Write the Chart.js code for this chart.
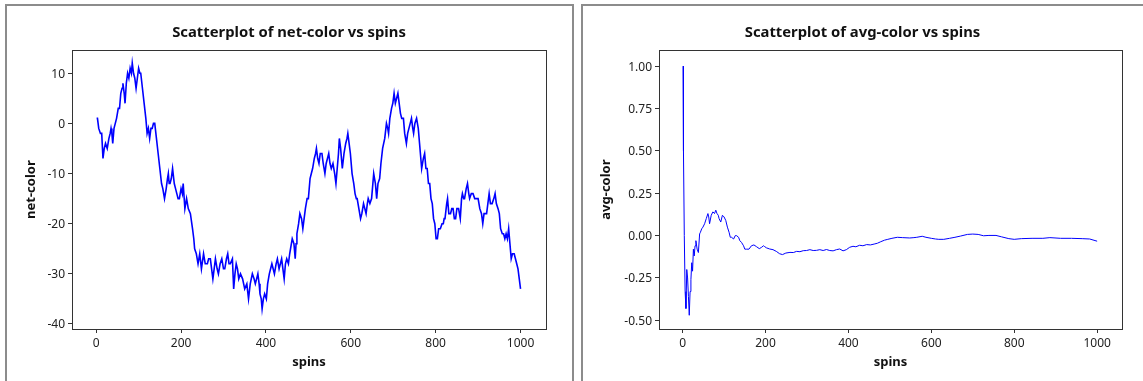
<!DOCTYPE html>
<html>
  <head>
    <meta charset="utf-8">
    <title>Scatterplots of net-color and avg-color vs spins</title>
    <script src="https://cdn.jsdelivr.net/npm/chart.js@4.4.1/dist/chart.umd.min.js"></script>
    <style>
      body {
        margin: 0;
        width: 1143px;
        height: 381px;
        overflow: hidden;
        background: #fff;
        position: relative;
      }
      .panel {
        position: absolute;
        box-sizing: border-box;
        border: 2px solid #8c8c8c;
        border-bottom: none;
      }
      #panelL { left: 5px; top: 4px; width: 569px; height: 400px; }
      #panelR { left: 581px; top: 4px; width: 600px; height: 400px; border-right: none; }
      canvas { position: absolute; top: 0; }
      #netChart { left: 0; }
      #avgChart { left: 582px; }
    </style>
  </head>
  <body>
    <div class="panel" id="panelL"></div>
    <div class="panel" id="panelR"></div>
    <canvas id="netChart" width="578" height="381"></canvas>
    <canvas id="avgChart" width="561" height="381"></canvas>

    <script>
      // values
      var netSpins = [1,3,6,10,13,16,19,22,26,30,33,35,37,39,42,45,48,52,55,58,61,63,66,68,71,74,77,80,83,85,88,91,94,97,100,103,105,109,113,117,120,123,126,129,132,135,138,142,146,150,154,157,161,165,168,170,172,174,177,180,184,187,190,193,196,200,203,205,209,213,217,222,227,230,232,236,240,244,248,253,257,262,265,269,272,275,278,281,285,288,292,296,300,303,307,310,313,316,321,324,327,330,333,336,340,345,350,355,359,363,368,372,375,378,381,384,386,389,391,394,397,401,404,408,411,414,417,420,424,427,431,434,437,440,443,446,449,453,456,458,462,466,469,471,473,477,480,484,487,490,493,497,500,504,507,510,514,517,519,522,525,528,532,535,539,542,545,548,551,554,558,562,565,568,571,573,576,580,584,588,591,593,596,599,603,607,610,613,615,619,623,626,630,633,636,639,641,645,649,652,654,656,658,661,664,668,671,675,680,684,687,689,692,696,699,702,705,708,711,714,717,720,724,727,731,734,737,740,743,746,748,751,755,757,759,762,765,767,771,774,777,780,783,786,789,792,795,798,801,804,807,811,815,818,820,822,826,828,831,835,838,841,844,847,850,854,858,861,863,866,868,872,875,878,880,884,888,892,896,900,904,908,911,914,917,920,923,926,929,933,937,940,943,947,950,953,957,960,963,966,969,972,975,978,981,985,988,991,994,997,1000];
      var netColor = [1,1,-1,-2,-2,-7,-5,-4,-5,-3,-2,-1,-2,-4,-1,0,1,3,3,6,7,8,6,4,8,10,9,11,10,12,10,9,7,9,11,10,10,7,4,1,-2,-1,-3,-1,-1,0,0,-3,-6,-9,-12,-13,-15,-13,-11,-10,-12,-12,-11,-9,-12,-13,-14,-15,-15,-13,-14,-12,-17,-15,-17,-18,-21,-23,-25,-26,-28,-26,-29,-26,-28,-28,-27,-27,-29,-31,-29,-27,-29,-30,-28,-27,-29,-29,-27,-26,-28,-28,-27,-33,-30,-28,-29,-31,-30,-31,-33,-32,-35,-32,-30,-31,-32,-31,-30,-32,-34,-35,-37,-35,-34,-35,-32,-30,-29,-28,-29,-30,-28,-27,-29,-28,-27,-29,-31,-28,-27,-28,-26,-25,-23,-24,-27,-24,-22,-20,-18,-19,-21,-19,-17,-15,-15,-11,-10,-9,-7,-6,-5,-7,-8,-6,-6,-8,-10,-8,-7,-6,-8,-9,-8,-10,-12,-9,-6,-3,-5,-9,-6,-4,-3,-2,-4,-6,-10,-12,-14,-15,-15,-17,-19,-18,-16,-17,-18,-16,-15,-16,-15,-12,-10,-11,-12,-15,-12,-11,-8,-5,-3,0,-1,-2,1,3,4,6,4,5,6,4,2,1,1,-2,-4,-2,-1,0,1,-1,-2,0,1,0,-1,-4,-7,-9,-7,-6,-9,-9,-12,-12,-15,-16,-19,-20,-23,-23,-21,-21,-20,-20,-19,-19,-16,-15,-18,-18,-17,-17,-19,-19,-17,-17,-19,-15,-14,-15,-15,-13,-12,-14,-15,-14,-14,-15,-15,-15,-17,-18,-20,-18,-18,-18,-16,-14,-16,-16,-15,-14,-16,-17,-18,-21,-22,-22,-23,-22,-23,-21,-24,-27,-26,-26,-27,-28,-29,-31,-33];

      var avgSpins = [1,2,4,6,8,10,12,14,16,18,20,22,24,26,28,30,32,35,38,41,43,46,49,53,57,61,63,65,69,73,77,80,83,86,88,92,96,100,104,108,112,115,118,123,127,130,135,138,142,147,150,154,160,166,172,178,185,190,195,198,202,210,218,226,234,241,249,259,267,275,283,291,299,307,315,323,331,339,347,355,363,371,379,387,395,403,411,418,427,435,444,453,462,470,478,487,495,505,518,531,548,558,565,578,587,600,610,618,630,644,657,670,687,700,713,726,739,756,769,787,800,817,843,869,886,912,938,964,982,1000];
      var avgColor = [1.00,0.50,0.00,-0.33,-0.43,-0.20,-0.25,-0.36,-0.47,-0.33,-0.26,-0.16,-0.21,-0.08,-0.12,-0.06,-0.03,-0.08,-0.10,0.01,0.02,0.04,0.05,0.07,0.10,0.13,0.11,0.07,0.12,0.14,0.13,0.15,0.13,0.12,0.10,0.08,0.12,0.11,0.09,0.05,0.02,-0.01,-0.01,-0.02,0.00,0.00,-0.01,-0.03,-0.04,-0.06,-0.08,-0.08,-0.08,-0.06,-0.055,-0.065,-0.077,-0.07,-0.06,-0.065,-0.072,-0.079,-0.083,-0.093,-0.107,-0.112,-0.103,-0.099,-0.10,-0.093,-0.095,-0.089,-0.088,-0.083,-0.088,-0.087,-0.083,-0.088,-0.082,-0.088,-0.09,-0.083,-0.079,-0.09,-0.083,-0.069,-0.063,-0.066,-0.057,-0.06,-0.053,-0.055,-0.05,-0.045,-0.036,-0.027,-0.022,-0.016,-0.010,-0.012,-0.014,-0.012,-0.010,-0.004,-0.01,-0.016,-0.02,-0.022,-0.022,-0.016,-0.010,-0.003,0.007,0.009,0.007,-0.001,0.001,0.001,-0.007,-0.018,-0.022,-0.018,-0.016,-0.016,-0.012,-0.016,-0.016,-0.018,-0.02,-0.033];

      var spinTicks = [0, 200, 400, 600, 800, 1000];
      var netTicks = [-40, -30, -20, -10, 0, 10];
      var avgTicks = [-0.50, -0.25, 0.00, 0.25, 0.50, 0.75, 1.00];

      var fontFam = "'Noto Sans', 'DejaVu Sans', sans-serif";
      var ink = '#222';
      var frame = '#333';

      function pairs(xs, ys) {
        var out = [];
        for (var i = 0; i < xs.length; i++) out.push({x: xs[i], y: ys[i]});
        return out;
      }

      function fixTicks(list) {
        return function (scale) {
          scale.ticks = list.map(function (v) { return {value: v}; });
        };
      }

      function fixSize(prop, size) {
        return function (scale) { scale[prop] = size; };
      }

      // one scatter panel; sizes in px so the plot frame lands where Minitab put it
      function makePlot(id, cfg) {
        var ctx = document.getElementById(id).getContext('2d');
        return new Chart(ctx, {
          type: 'scatter',
          data: {
            datasets: [{
              data: pairs(cfg.xs, cfg.ys),
              showLine: true,
              borderColor: '#0000ff',
              borderWidth: cfg.lineW,
              pointRadius: 0,
              tension: 0
            }]
          },
          options: {
            responsive: false,
            animation: false,
            layout: { padding: 0 },
            plugins: {
              legend: { display: false },
              tooltip: { enabled: false },
              title: {
                display: true,
                text: cfg.title,
                color: '#111',
                font: { family: fontFam, size: 14.8, weight: 'bold', lineHeight: 1.2 },
                padding: { top: 24.4, bottom: 8 }
              }
            },
            scales: {
              x: {
                type: 'linear',
                position: 'bottom',
                min: -57, max: 1060,
                afterBuildTicks: fixTicks(spinTicks),
                afterFit: fixSize('height', 52),
                grid: { drawOnChartArea: false, drawTicks: true, tickLength: 4, color: frame },
                border: { display: true, color: frame, width: 1 },
                ticks: {
                  color: ink, padding: 3.5, maxRotation: 0,
                  font: { family: fontFam, size: 12 },
                  callback: function (v) { return String(v); }
                },
                title: {
                  display: true, text: 'spins', color: '#111',
                  font: { family: fontFam, size: 13, weight: 'bold', lineHeight: 1.2 },
                  padding: { top: 0, bottom: 11 }
                }
              },
              y: {
                type: 'linear',
                position: 'left',
                min: cfg.yMin, max: cfg.yMax,
                afterBuildTicks: fixTicks(cfg.yTicks),
                afterFit: fixSize('width', cfg.yWidth),
                grid: { drawOnChartArea: false, drawTicks: true, tickLength: 4, color: frame },
                border: { display: true, color: frame, width: 1 },
                ticks: {
                  color: ink, padding: 3, labelOffset: 1,
                  font: { family: fontFam, size: 12 }, callback: cfg.fmt
                },
                title: {
                  display: true, text: cfg.yTitle, color: '#111',
                  font: { family: fontFam, size: 13, weight: 'bold', lineHeight: 1.2 },
                  padding: { top: cfg.yTitlePad, bottom: 0 }
                }
              },
              // empty axes only used to close the frame on the top and right
              xTop: {
                type: 'linear', position: 'top', display: true,
                afterFit: fixSize('height', 0),
                grid: { display: false }, ticks: { display: false },
                border: { display: true, color: frame, width: 1 }
              },
              yRight: {
                type: 'linear', position: 'right', display: true,
                afterFit: fixSize('width', cfg.rightGap),
                grid: { display: false }, ticks: { display: false },
                border: { display: true, color: frame, width: 1 }
              }
            }
          }
        });
      }

      makePlot('netChart', {
        title: 'Scatterplot of net-color vs spins',
        yTitle: 'net-color',
        xs: netSpins, ys: netColor,
        yMin: -41, yMax: 14.6,
        yTicks: netTicks,
        fmt: function (v) { return String(v); },
        yWidth: 72, rightGap: 32, yTitlePad: 23.2,
        lineW: 1.6
      });

      makePlot('avgChart', {
        title: 'Scatterplot of avg-color vs spins',
        yTitle: 'avg-color',
        xs: avgSpins, ys: avgColor,
        yMin: -0.551, yMax: 1.094,
        yTicks: avgTicks,
        fmt: function (v) { return v.toFixed(2); },
        yWidth: 77, rightGap: 21, yTitlePad: 16.2,
        lineW: 1
      });
    </script>
  </body>
</html>
